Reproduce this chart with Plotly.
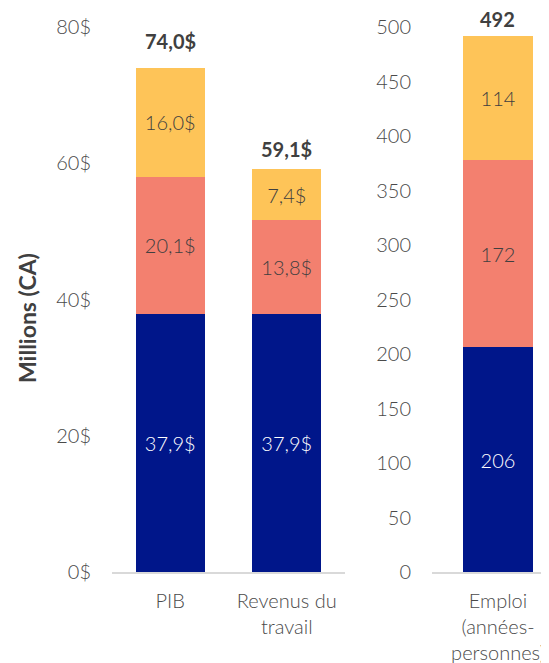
import plotly.graph_objects as go

cats_left = ["PIB", "Revenus du<br>travail"]
cats_right = ["Emploi<br>(années-<br>personnes)"]

direct_left = [37.9, 37.9]
indirect_left = [20.1, 13.8]
induced_left = [16.0, 7.4]

direct_right = [206]
indirect_right = [172]
induced_right = [114]

left_ticks = [0, 20, 40, 60, 80]
right_ticks = [0, 50, 100, 150, 200, 250, 300, 350, 400, 450, 500]

colors = ["#00168A", "#F3806F", "#FEC458"]
text_colors = ["#FFFFFF", "#3F3F3F", "#3F3F3F"]
FONT = "Lato"
OFF = 8  # page body margin
W, H = 549 - OFF, 663 - OFF

def money(v):
    return f"{v:.1f}".replace(".", ",") + "$"

def px(x):
    return (x - OFF) / W

def py(y):
    return 1 - (y - OFF) / H

fig = go.Figure()

left_series = [direct_left, indirect_left, induced_left]
right_series = [direct_right, indirect_right, induced_right]

for i, vals in enumerate(left_series):
    fig.add_trace(go.Bar(
        x=cats_left, y=vals, xaxis="x", yaxis="y",
        marker=dict(color=colors[i], line=dict(width=0)),
        text=[money(v) for v in vals], textposition="inside",
        insidetextanchor="middle",
        textfont=dict(family=FONT, size=20, color=text_colors[i], weight=300),
        showlegend=False, hoverinfo="skip",
    ))
for i, vals in enumerate(right_series):
    fig.add_trace(go.Bar(
        x=cats_right, y=vals, xaxis="x2", yaxis="y2",
        marker=dict(color=colors[i], line=dict(width=0)),
        text=[str(v) for v in vals], textposition="inside",
        insidetextanchor="middle",
        textfont=dict(family=FONT, size=20, color=text_colors[i], weight=300),
        showlegend=False, hoverinfo="skip",
    ))

totals_left = [a + b + c for a, b, c in zip(*left_series)]
totals_right = [a + b + c for a, b, c in zip(*right_series)]
shift_left = [27, 20]
shift_right = [17]

annotations = []
for c, t, s in zip(cats_left, totals_left, shift_left):
    annotations.append(dict(x=c, y=t, xref="x", yref="y", text=f"<b>{money(t)}</b>",
                            showarrow=False, yanchor="middle", yshift=s,
                            font=dict(family=FONT, size=20, color="#404040")))
for c, t, s in zip(cats_right, totals_right, shift_right):
    annotations.append(dict(x=c, y=t, xref="x2", yref="y2", text=f"<b>{t}</b>",
                            showarrow=False, yanchor="middle", yshift=s,
                            font=dict(family=FONT, size=20, color="#404040")))
annotations.append(dict(x=px(27), y=py(318), xref="paper", yref="paper",
                        text="<b>Millions (CA)</b>", textangle=-90, showarrow=False,
                        xanchor="center", yanchor="middle",
                        font=dict(family=FONT, size=23, color="#404040")))

ydom = [py(572), py(27)]
tickfont = dict(family=FONT, size=20, color="#4A4A4A", weight=300)

fig.update_layout(
    width=W, height=H,
    margin=dict(l=0, r=0, t=0, b=0),
    paper_bgcolor="white", plot_bgcolor="white",
    barmode="stack", bargap=0.41,
    annotations=annotations,
    xaxis=dict(domain=[px(112), px(345)], showline=True, linecolor="#D9D9D9", linewidth=1.5,
               ticks="", tickfont=tickfont, automargin=False, ticklabelstandoff=10,
               anchor="y"),
    yaxis=dict(domain=ydom, range=[0, 80], tickmode="array", tickvals=left_ticks,
               ticktext=[f"{v}$" for v in left_ticks],
               showgrid=False, zeroline=False, showline=False, ticks="",
               tickfont=tickfont, automargin=False, ticklabelstandoff=20, anchor="x"),
    xaxis2=dict(domain=[px(432), 1], range=[-0.564, 0.436], showline=True,
                linecolor="#D9D9D9", linewidth=1.5, ticks="", tickfont=tickfont,
                automargin=False, ticklabelstandoff=10, anchor="y2"),
    yaxis2=dict(domain=ydom, range=[0, 500], tickmode="array", tickvals=right_ticks,
                showgrid=False, zeroline=False,
                showline=False, ticks="", tickfont=tickfont, automargin=False,
                ticklabelstandoff=20, anchor="x2"),
)

fig.write_html("out.html")
